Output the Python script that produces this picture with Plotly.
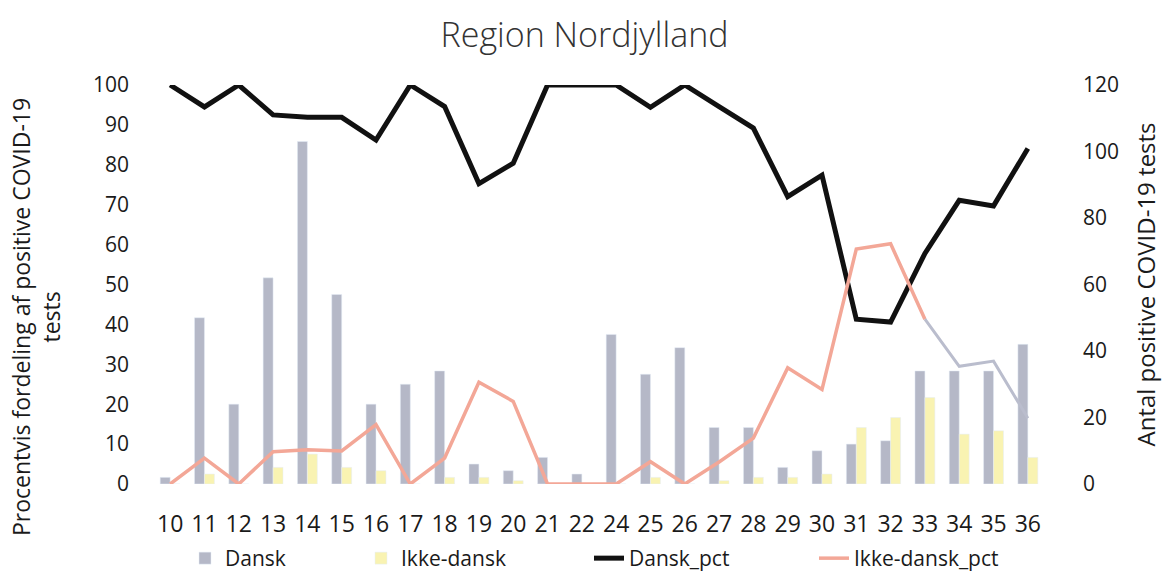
import plotly.graph_objects as go

# Weeks (week 23 has no data)
weeks = ["10", "11", "12", "13", "14", "15", "16", "17", "18", "19", "20", "21", "22",
         "24", "25", "26", "27", "28", "29", "30", "31", "32", "33", "34", "35", "36"]

# Number of positive tests
dansk = [2, 50, 24, 62, 103, 57, 24, 30, 34, 6, 4, 8, 3,
         45, 33, 41, 17, 17, 5, 10, 12, 13, 34, 34, 34, 42]
ikke_dansk = [0, 3, 0, 5, 9, 5, 4, 0, 2, 2, 1, 0, 0,
              0, 2, 0, 1, 2, 2, 3, 17, 20, 26, 15, 16, 8]

# Percent distribution
dansk_pct = [100, 94.5, 100, 92.5, 91.9, 91.9, 86.2, 100, 94.6, 75.3, 80.4, 100, 100,
             100, 94.4, 100, 94.6, 89.2, 72.0, 77.4, 41.3, 40.6, 57.8, 71.1, 69.7, 84.1]
ikke_dansk_pct = [0, 6.5, 0, 8.1, 8.6, 8.3, 14.9, 0, 6.5, 25.5, 20.7, 0, 0,
                  0, 5.6, 0, 5.5, 11.5, 29.1, 23.7, 58.9, 60.2, 41.3, 29.5, 30.8, 16.5]

split = weeks.index("33")

GREY = "#B5B8C7"
YELLOW = "#F9F3B2"
SALMON = "#F3A797"
FONT = "Open Sans"

# plot area in pixels
L, R, T, B = 153, 1045, 85, 484
W, H = 1169, 581


def px_x(x):
    return (x - L) / (R - L)


def px_y(y):
    return (B - y) / (B - T)


fig = go.Figure()

fig.add_trace(go.Bar(x=weeks, y=dansk, name="Dansk", marker_color=GREY,
                     yaxis="y", legend="legend"))
fig.add_trace(go.Bar(x=weeks, y=ikke_dansk, name="Ikke-dansk", marker_color=YELLOW,
                     yaxis="y", legend="legend2"))
fig.add_trace(go.Scatter(x=weeks, y=dansk_pct, name="Dansk_pct", mode="lines",
                         line=dict(color="#111111", width=5), yaxis="y2",
                         legend="legend3"))
fig.add_trace(go.Scatter(x=weeks[:split + 1], y=ikke_dansk_pct[:split + 1],
                         name="Ikke-dansk_pct", mode="lines",
                         line=dict(color=SALMON, width=3.5), yaxis="y2",
                         legend="legend4"))
fig.add_trace(go.Scatter(x=weeks[split:], y=ikke_dansk_pct[split:],
                         name="Ikke-dansk_pct", mode="lines", showlegend=False,
                         line=dict(color="#BABDCD", width=3), yaxis="y2"))

# legend boxes end just above the bottom edge of the page
leg_common = dict(orientation="h", xanchor="left", yanchor="bottom",
                  y=-(H - 2 - B) / (B - T), font=dict(size=21),
                  bgcolor="rgba(0,0,0,0)")

fig.update_layout(
    width=W, height=H,
    margin=dict(l=L, r=W - R, t=T, b=H - B, autoexpand=False),
    paper_bgcolor="white", plot_bgcolor="white",
    font=dict(family=FONT, color="#1a1a1a", size=20),
    title=dict(text="Region Nordjylland", x=0.5, xanchor="center",
               y=1 - 35 / H, yanchor="middle",
               font=dict(family=FONT, size=34, color="#333333", weight=300)),
    barmode="group", bargap=0.42, bargroupgap=0.0,
    xaxis=dict(type="category", showgrid=False, showline=False, ticks="",
               tickfont=dict(size=23), ticklabelstandoff=24),
    yaxis=dict(side="right", range=[0, 120], dtick=20, showgrid=False,
               zeroline=False, showline=False, ticks="",
               tickfont=dict(size=21), ticklabelstandoff=37,
               title=dict(text="Antal positive COVID-19 tests",
                          font=dict(size=24), standoff=20)),
    yaxis2=dict(side="left", overlaying="y", range=[0, 100], dtick=10,
                showgrid=False, zeroline=False, showline=False, ticks="",
                tickfont=dict(size=21), ticklabelstandoff=23),
    legend=dict(x=px_x(185), **leg_common),
    legend2=dict(x=px_x(361), **leg_common),
    legend3=dict(x=px_x(589), **leg_common),
    legend4=dict(x=px_x(814), **leg_common),
    annotations=[dict(
        text="Procentvis fordeling af positive COVID-19<br>tests",
        xref="paper", yref="paper", x=px_x(36), y=px_y(317),
        xanchor="center", yanchor="middle", textangle=-90, showarrow=False,
        font=dict(size=23, family=FONT, color="#1a1a1a"))],
)

fig.write_html("out.html")
